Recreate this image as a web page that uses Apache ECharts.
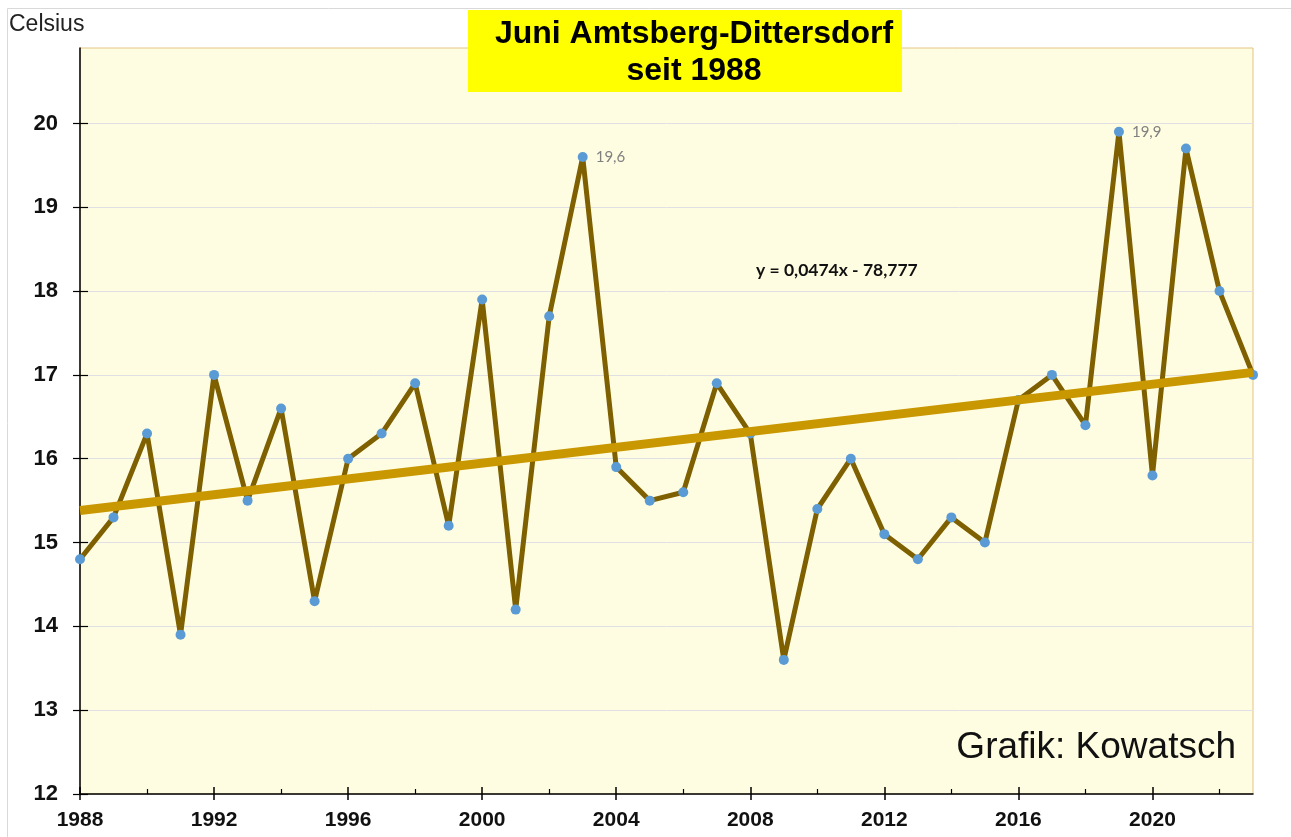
<!DOCTYPE html>
<html>
<head>
<meta charset="utf-8">
<title>Juni Amtsberg-Dittersdorf</title>
<script src="https://cdn.jsdelivr.net/npm/echarts@6/dist/echarts.min.js"></script>
<style>
  html, body { margin: 0; padding: 0; background: #fff; }
  #chart { width: 1291px; height: 837px; }
</style>
</head>
<body>
<div id="chart"></div>
<script>
// Juni-Mittel Amtsberg-Dittersdorf
const years = [1988, 1989, 1990, 1991, 1992, 1993, 1994, 1995, 1996, 1997, 1998, 1999,
  2000, 2001, 2002, 2003, 2004, 2005, 2006, 2007, 2008, 2009, 2010, 2011,
  2012, 2013, 2014, 2015, 2016, 2017, 2018, 2019, 2020, 2021, 2022, 2023];
const temps = [14.8, 15.3, 16.3, 13.9, 17.0, 15.5, 16.6, 14.3, 16.0, 16.3, 16.9, 15.2,
  17.9, 14.2, 17.7, 19.6, 15.9, 15.5, 15.6, 16.9, 16.3, 13.6, 15.4, 16.0,
  15.1, 14.8, 15.3, 15.0, 16.7, 17.0, 16.4, 19.9, 15.8, 19.7, 18.0, 17.0];
const labelledYears = [2003, 2019];
const majorYears = [1988, 1992, 1996, 2000, 2004, 2008, 2012, 2016, 2020];
const minorYears = [1990, 1994, 1998, 2002, 2006, 2010, 2014, 2018, 2022];
const yTicks = [12, 13, 14, 15, 16, 17, 18, 19, 20];
const equationText = 'y = 0,0474x - 78,777';

// linear regression for the trend line
const n = years.length;
const mx = years.reduce((a, b) => a + b, 0) / n;
const my = temps.reduce((a, b) => a + b, 0) / n;
let sxy = 0, sxx = 0;
years.forEach((x, i) => { sxy += (x - mx) * (temps[i] - my); sxx += (x - mx) * (x - mx); });
const slope = sxy / sxx;
const icpt = my - slope * mx;
const trend = [years[0], years[n - 1]].map(x => [x, icpt + slope * x]);

const chart = echarts.init(document.getElementById('chart'), null, { renderer: 'canvas' });

const xBase = { type: 'value', min: 1988, max: 2023, position: 'bottom', offset: 0, splitLine: { show: false } };
const yBase = { type: 'value', min: yTicks[0], max: 20.9, interval: 1, position: 'left', offset: 0 };

chart.setOption({
  animation: false,
  textStyle: { fontFamily: 'Liberation Sans, Arial, sans-serif' },
  grid: {
    left: 80, right: 38, top: 48, bottom: 43,
    show: true,
    backgroundColor: '#fffde1',
    borderColor: '#e2c483',
    borderWidth: 1
  },
  graphic: [
    {
      type: 'rect', z: -10, silent: true,
      shape: { x: 7.5, y: 8.5, width: 1290, height: 840 },
      style: { fill: 'none', stroke: '#d9d9d9', lineWidth: 1 }
    },
    {
      type: 'text', left: 9, top: 13,
      style: { text: 'Celsius', font: '23px "Liberation Sans", Arial', fill: '#222' }
    },
    {
      type: 'rect', z: 10,
      shape: { x: 468, y: 10, width: 434, height: 82 },
      style: { fill: '#ffff00' }
    },
    {
      type: 'text', z: 11, x: 694, y: 53,
      style: {
        text: 'Juni Amtsberg-Dittersdorf\nseit 1988',
        font: 'bold 32px "Liberation Sans", Arial',
        fill: '#000', align: 'center', verticalAlign: 'middle', lineHeight: 37
      }
    },
    {
      type: 'text', z: 11, x: 756, y: 270,
      style: {
        text: equationText,
        font: 'bold 17.5px Lato, "Open Sans", sans-serif',
        fill: '#111', verticalAlign: 'middle'
      }
    },
    {
      type: 'text', z: 11, x: 1236, y: 748,
      style: {
        text: 'Grafik: Kowatsch',
        font: '37px "Liberation Sans", Arial',
        fill: '#111', align: 'right', verticalAlign: 'middle'
      }
    }
  ],
  xAxis: [
    Object.assign({}, xBase, {
      axisLine: { show: true, onZero: false, lineStyle: { color: '#000', width: 1.5 } },
      axisTick: { show: true, inside: true, length: 7, customValues: majorYears, lineStyle: { color: '#000', width: 1.5 } },
      axisLabel: {
        margin: 16, fontSize: 21, fontWeight: 'bold', color: '#111',
        customValues: majorYears,
        formatter: v => String(v)
      }
    }),
    Object.assign({}, xBase, {
      axisLine: { show: false, onZero: false },
      axisTick: { show: true, inside: false, length: 6, customValues: majorYears, lineStyle: { color: '#000', width: 1.5 } },
      axisLabel: { show: false }
    }),
    Object.assign({}, xBase, {
      axisLine: { show: false, onZero: false },
      axisTick: { show: true, inside: true, length: 5, customValues: minorYears, lineStyle: { color: '#000', width: 1.2 } },
      axisLabel: { show: false }
    })
  ],
  yAxis: [
    Object.assign({}, yBase, {
      axisLine: { show: true, onZero: false, lineStyle: { color: '#000', width: 1.5 } },
      axisTick: { show: true, inside: false, length: 7, customValues: yTicks, lineStyle: { color: '#000', width: 1.2 } },
      axisLabel: {
        margin: 22, fontSize: 22, fontWeight: 'bold', color: '#111',
        customValues: yTicks,
        formatter: v => String(v)
      },
      splitLine: { show: true, lineStyle: { color: '#e0e0e4', width: 1 } }
    }),
    Object.assign({}, yBase, {
      axisLine: { show: false, onZero: false },
      axisTick: { show: true, inside: true, length: 8, customValues: yTicks, lineStyle: { color: '#000', width: 1.2 } },
      axisLabel: { show: false },
      splitLine: { show: false }
    })
  ],
  series: [
    {
      name: 'Juni',
      type: 'line',
      xAxisIndex: 0, yAxisIndex: 0,
      data: years.map((y, i) => [y, temps[i]]),
      symbol: 'circle',
      symbolSize: 10,
      showAllSymbol: true,
      lineStyle: { color: '#7f6000', width: 5 },
      itemStyle: { color: '#5b9bd5' },
      label: {
        show: true,
        position: 'right',
        distance: 8,
        color: '#808080',
        fontSize: 15,
        fontFamily: 'Lato, "Open Sans", sans-serif',
        formatter: p => (labelledYears.includes(p.data[0]) ? p.data[1].toFixed(1).replace('.', ',') : '')
      },
      z: 3
    },
    {
      name: 'Trend',
      type: 'line',
      xAxisIndex: 0, yAxisIndex: 0,
      data: trend,
      symbol: 'none',
      lineStyle: { color: '#c99700', width: 9 },
      z: 4
    }
  ]
});
</script>
</body>
</html>
